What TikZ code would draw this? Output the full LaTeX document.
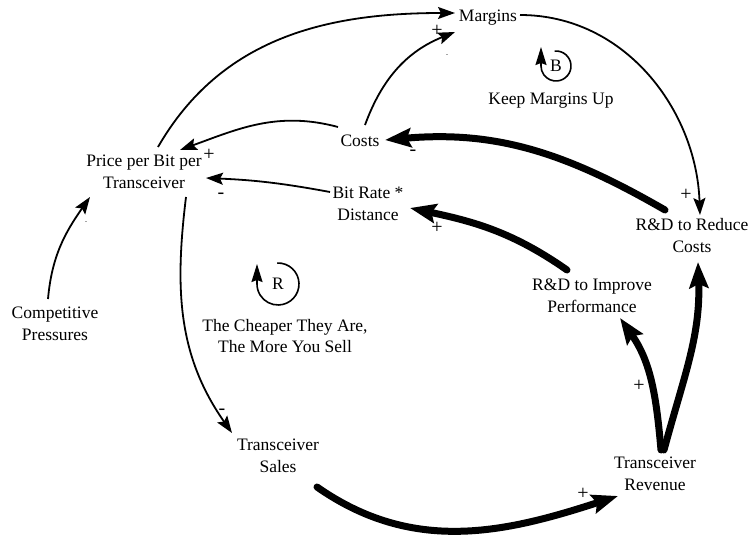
\documentclass[tikz,border=0pt]{standalone}
\usepackage{fontspec}
\setmainfont{Liberation Serif}
\usetikzlibrary{arrows.meta}
\begin{document}
\begin{tikzpicture}[x=1pt,y=1pt,
  var/.style={align=center, inner sep=1pt, font=\fontsize{17.5}{22}\selectfont},
  looplabel/.style={align=center, inner sep=1pt, font=\fontsize{17.5}{21}\selectfont},
  thinlink/.style={line width=1.8pt, -{Stealth[length=17pt,width=12pt,inset=3pt]}},
  thicklink/.style={line width=7pt, line cap=round, -{Stealth[length=26pt,width=19pt,inset=4pt]}},
  polarity/.style={font=\fontsize{20}{20}\selectfont, inner sep=0pt},
  faint/.style={font=\fontsize{6}{6}\selectfont, inner sep=0pt},
  loopmark/.style={line width=1.6pt, -{Stealth[length=18pt,width=11pt,inset=2pt]}},
]
\useasboundingbox (0,0) rectangle (756,539);

% variables
\node[var] (margins) at (488,521) {Margins};
\node[var] (costs) at (360,398) {Costs};
\node[var] (price) at (144,367) {Price per Bit per\\Transceiver};
\node[var] (bitrate) at (368,335) {Bit Rate *\\Distance};
\node[var] (rdreduce) at (692,303) {R\&D to Reduce\\Costs};
\node[var] (rdimprove) at (592,243) {R\&D to Improve\\Performance};
\node[var] (competitive) at (55,215) {Competitive\\Pressures};
\node[var] (sales) at (278,83) {Transceiver\\Sales};
\node[var] (revenue) at (655,65) {Transceiver\\Revenue};

% loop identifiers
\node[looplabel] (bloop) at (556,473) {B};
\node[looplabel] (keep) at (551,438) {Keep Margins Up};
\node[looplabel] (rloop) at (278,255) {R};
\node[looplabel] (cheaper) at (285,203) {The Cheaper They Are,\\The More You Sell};

\draw[loopmark] ([shift={(95:15pt)}]bloop.center) arc[start angle=95, end angle=-180, radius=15pt] -- ++(0,19);
\draw[loopmark] ([shift={(92:21pt)}]rloop.center) arc[start angle=92, end angle=-180, radius=21pt] -- ++(0,20);

% thin causal links
\draw[thinlink] ([shift={(14,25)}]price.center) to[out=60, in=180] ([shift={(-33,5)}]margins.center);
\draw[thinlink] ([shift={(5,16)}]costs.center) to[bend left=24] ([shift={(-33,-14)}]margins.center);
\draw[thinlink] ([shift={(-22,14)}]costs.center) to[out=165, in=20] ([shift={(36,22)}]price.center);
\draw[thinlink] ([shift={(-38,12)}]bitrate.center) to[bend right=4] ([shift={(62,-6)}]price.center);
\draw[thinlink] ([shift={(32,3)}]margins.center) to[out=0, in=92] ([shift={(8,21)}]rdreduce.center);
\draw[thinlink] ([shift={(42,-25)}]price.center) to[out=-97, in=125] ([shift={(-46,23)}]sales.center);
\draw[thinlink] ([shift={(-7,25)}]competitive.center) to[out=85, in=235] ([shift={(-54,-25)}]price.center);

% thick causal links
\draw[thicklink] ([shift={(-27,26)}]rdreduce.center) to[out=150, in=5] ([shift={(25,1)}]costs.center);
\draw[thicklink] ([shift={(-25,26)}]rdimprove.center) to[out=145, in=-12] ([shift={(42,-4)}]bitrate.center);
\draw[thicklink] ([shift={(39,-31)}]sales.center) to[out=-35, in=198] ([shift={(-37,-22)}]revenue.center);
\draw[thicklink] ([shift={(6,24)}]revenue.center) to[out=95, in=-55] ([shift={(28,-22)}]rdimprove.center);
\draw[thicklink] ([shift={(9,24)}]revenue.center) to[out=75, in=-88] ([shift={(6,-26)}]rdreduce.center);

% polarities
\node[polarity] (p1) at (209,384) {+};
\node[polarity] (p2) at (221,343) {-};
\node[polarity] (p3) at (437,508) {+};
\node[faint] (p4) at (447,483) {-};
\node[polarity] (p5) at (413,386) {-};
\node[polarity] (p6) at (437,311) {+};
\node[polarity] (p7) at (686,344) {+};
\node[polarity] (p8) at (222,127) {-};
\node[faint] (p9) at (86,316) {-};
\node[polarity] (p10) at (583,45) {+};
\node[polarity] (p11) at (639,153) {+};
\end{tikzpicture}
\end{document}
